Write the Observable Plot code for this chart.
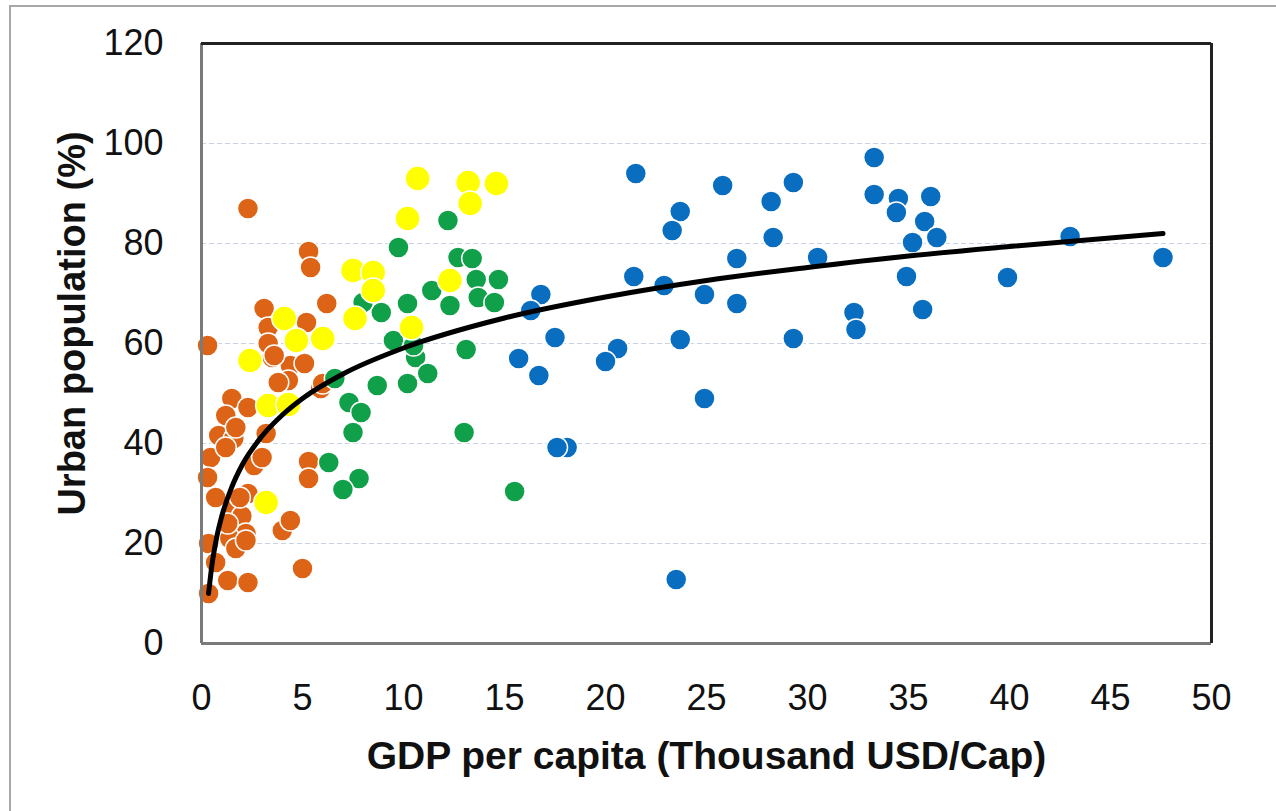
<!DOCTYPE html>
<html>
<head>
<meta charset="utf-8">
<script src="https://cdn.jsdelivr.net/npm/d3@7"></script>
<script src="https://cdn.jsdelivr.net/npm/@observablehq/plot@0.6"></script>
<style>
  html, body { margin: 0; padding: 0; background: #fff; overflow: hidden; }
  #wrap { position: relative; width: 1276px; height: 811px; }
  #border { position: absolute; left: 9px; top: 5px; width: 1300px; height: 830px; border: 2px solid #a8a8a8; box-sizing: border-box; }
  #chart { position: absolute; left: 0; top: 0; }
</style>
</head>
<body>
<div id="wrap"><div id="border"></div><div id="chart"></div></div>
<script>
const xTicks = [0, 5, 10, 15, 20, 25, 30, 35, 40, 45, 50];
const yTicks = [0, 20, 40, 60, 80, 100, 120];
const gridY = [20, 40, 60, 80, 100];

// Orange group (low income)
const orangeX = [0.3, 3.1, 5.2, 6.2, 3.5, 4.4, 5.1, 5.9, 4.3, 1.5, 2.3, 1.2, 3.2, 0.85, 1.6, 0.45, 2.6, 3.0, 0.3, 5.3, 5.3, 0.7, 2.3, 1.45, 1.9, 4.0, 4.4, 0.35, 0.7, 1.3, 2.3, 5.0, 0.35, 1.6, 2.0, 2.2, 1.4, 1.7, 2.3, 5.3, 5.4, 3.3, 3.8, 6.0, 3.3, 1.7, 1.2, 1.9, 2.2, 1.3, 3.6];
const orangeY = [59.6, 67, 64.2, 68, 57.2, 55.6, 56, 51, 52.6, 49, 47.2, 45.6, 42, 41.6, 41, 37.2, 35.6, 37.2, 33.2, 36.4, 33, 29.2, 30, 26, 24, 22.6, 24.6, 20, 16.2, 12.6, 12.2, 15, 10, 27, 25.5, 22, 21, 19, 87, 78.4, 75.2, 63.2, 52.2, 52, 60, 43.2, 39.2, 29.2, 20.6, 24, 57.6];

// Green group
const greenX = [12.2, 9.75, 12.7, 13.4, 14.7, 13.6, 13.7, 14.5, 11.4, 12.3, 10.2, 8.9, 8.0, 9.5, 10.6, 10.5, 13.1, 11.2, 10.2, 8.7, 6.6, 7.3, 7.9, 7.5, 13.0, 6.3, 7.8, 7.0, 15.5];
const greenY = [84.6, 79.2, 77.2, 77, 72.8, 72.8, 69.2, 68.2, 70.6, 67.6, 68, 66.2, 68.2, 60.6, 57.2, 59.6, 58.8, 54, 52, 51.6, 53, 48.2, 46.2, 42.2, 42.2, 36.2, 33, 30.8, 30.4];

// Blue group (high income)
const blueX = [21.5, 25.8, 29.3, 28.2, 33.3, 33.3, 23.7, 23.3, 28.3, 26.5, 30.5, 21.4, 22.9, 24.9, 26.5, 16.8, 16.3, 32.3, 32.4, 17.5, 23.7, 29.3, 15.7, 20.6, 20.0, 16.7, 24.9, 18.1, 17.6, 23.5, 34.5, 34.4, 36.1, 35.8, 36.4, 35.2, 34.9, 39.9, 43.0, 47.6, 35.7];
const blueY = [94, 91.6, 92.2, 88.4, 97.2, 89.8, 86.4, 82.6, 81.2, 77, 77.2, 73.4, 71.6, 69.8, 68, 69.8, 66.6, 66.2, 62.8, 61.2, 60.8, 61, 57, 59, 56.4, 53.6, 49, 39.2, 39.2, 12.8, 89, 86.2, 89.4, 84.4, 81.2, 80.2, 73.4, 73.2, 81.4, 77.2, 66.8];

// Yellow group
const yellowX = [10.7, 13.2, 14.6, 13.3, 10.2, 7.5, 8.5, 8.5, 12.3, 7.6, 4.1, 4.7, 6.0, 10.4, 2.4, 3.3, 4.3, 3.2];
const yellowY = [93, 92.2, 92, 88, 85, 74.6, 74.2, 70.6, 72.6, 65, 65, 60.6, 61, 63.2, 56.6, 47.6, 47.8, 28.2];

// Trend curve
const trendX = [0.35, 0.5, 0.75, 1, 1.5, 2, 3, 4, 5, 7, 10, 15, 20, 25, 30, 35, 40, 47.6];
const trendY = [10.0, 15.2, 21.2, 25.4, 31.3, 35.6, 41.5, 45.7, 49.0, 53.9, 59.1, 65.1, 69.3, 72.6, 75.2, 77.5, 79.4, 82.0];

const zip = (xs, ys) => xs.map((x, i) => ({x, y: ys[i]}));
const orange = zip(orangeX, orangeY);
const green = zip(greenX, greenY);
const blue = zip(blueX, blueY);
const yellow = zip(yellowX, yellowY);
const trend = zip(trendX, trendY);

const font = "'Liberation Sans', Arial, sans-serif";

const chart = Plot.plot({
  width: 1276,
  height: 811,
  marginLeft: 201,
  marginRight: 65,
  marginTop: 43,
  marginBottom: 168,
  style: { fontFamily: font, background: "transparent", overflow: "visible" },
  x: { domain: [0, 50] },
  y: { domain: [0, 120] },
  marks: [
    Plot.ruleY(gridY, { stroke: "#c9d3e3", strokeWidth: 1.2, strokeDasharray: "5,3" }),
    Plot.dot(orange, { x: "x", y: "y", r: 10.5, fill: "#DD6416", stroke: "#fff", strokeWidth: 1.5 }),
    Plot.dot(green, { x: "x", y: "y", r: 10.5, fill: "#11A04A", stroke: "#fff", strokeWidth: 1.5 }),
    Plot.dot(blue, { x: "x", y: "y", r: 10.5, fill: "#0A6EC0", stroke: "#fff", strokeWidth: 1.5 }),
    Plot.dot(yellow, { x: "x", y: "y", r: 12.5, fill: "#FFFF00", stroke: "#fff", strokeWidth: 1.5 }),
    Plot.line(trend, { x: "x", y: "y", stroke: "#000", strokeWidth: 5, curve: "monotone-x" }),
    Plot.ruleX([0], { stroke: "#7a7a7a", strokeWidth: 3 }),
    Plot.ruleY([0], { stroke: "#7a7a7a", strokeWidth: 3 }),
    Plot.ruleY([120], { stroke: "#222", strokeWidth: 3 }),
    Plot.ruleX([50], { stroke: "#222", strokeWidth: 3 }),
    Plot.axisX({ ticks: xTicks, tickSize: 0, tickPadding: 41, fontSize: 36, label: null, fill: "#111" }),
    Plot.axisY({ ticks: yTicks, tickSize: 0, tickPadding: 38, fontSize: 36, label: null, fill: "#111" }),
    Plot.text(["GDP per capita (Thousand USD/Cap)"], { frameAnchor: "bottom", lineAnchor: "middle", textAnchor: "middle", dy: 113, fontSize: 39, fontWeight: "bold", fill: "#111" }),
    Plot.text(["Urban population (%)"], { frameAnchor: "left", lineAnchor: "middle", textAnchor: "middle", dx: -129, dy: -20, rotate: -90, fontSize: 38, fontWeight: "bold", fill: "#111" })
  ]
});
document.getElementById("chart").appendChild(chart);
</script>
</body>
</html>
